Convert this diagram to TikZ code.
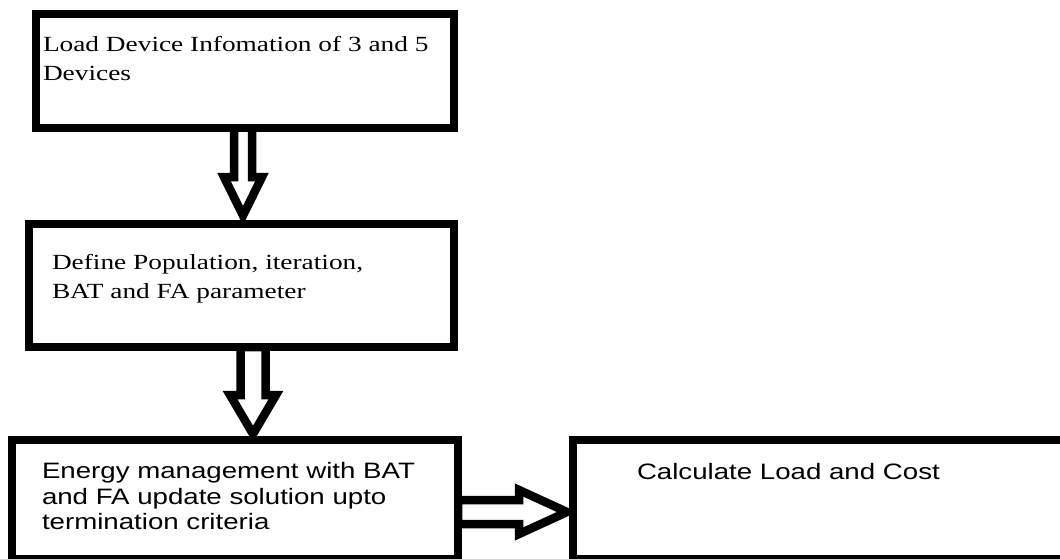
\documentclass[tikz,border=0pt]{standalone}
\usepackage{fontspec}
\usetikzlibrary{calc}
\newfontfamily\serifface{Liberation Serif}
\newfontfamily\sansface{Liberation Sans}
% text blocks: the lettering is set slightly wide
\newcommand\serifblock[1]{\scalebox{1.265}[1]{\serifface\fontsize{21.6}{29}\selectfont\begin{tabular}[t]{@{}l@{}}#1\end{tabular}}}
\newcommand\sansblock[1]{\scalebox{1.24}[1]{\sansface\fontsize{22.3}{25.7}\selectfont\begin{tabular}[t]{@{}l@{}}#1\end{tabular}}}
\tikzset{
  stagebox/.style={draw=black, fill=white, line width=8pt, inner sep=0pt, rectangle},
  label text/.style={anchor=base west, inner sep=0pt, outer sep=0pt},
  hollow arrow/.style={draw=black, fill=white, line width=8.5pt, line join=miter, miter limit=10},
}
\begin{document}
\begin{tikzpicture}[x=1pt, y=-1pt]
  \useasboundingbox (0,0) rectangle (1060,558);
  \fill[white] (0,0) rectangle (1060,558);

  % block centres
  \coordinate (p1) at (245,70.5);
  \coordinate (p2) at (241.5,285.25);
  \coordinate (p3) at (235,499.25);
  \coordinate (p4) at (826.25,499.25);

  % hollow block arrows (drawn first so the boxes cover their roots)
  \path (p1) ++(-2,57) coordinate (a1root);
  \path (p2) ++(11.5,61.75) coordinate (a2root);
  \path (p3) ++(223,12.75) coordinate (a3root);

  \draw[hollow arrow] ($(a1root)+(-9,0)$) -- ++(0,49.5) -- ++(-10,0)
     -- ($(a1root)+(0,88)$) -- ($(a1root)+(19,49.5)$) -- ++(-10,0)
     -- ($(a1root)+(9,0)$) -- cycle;
  \draw[hollow arrow] ($(a2root)+(-12.5,0)$) -- ++(0,48) -- ++(-10.5,0)
     -- ($(a2root)+(0,87)$) -- ($(a2root)+(23,48)$) -- ++(-10.5,0)
     -- ($(a2root)+(12.5,0)$) -- cycle;
  \draw[hollow arrow] ($(a3root)+(0,-12)$) -- ++(61,0) -- ++(0,-10)
     -- ($(a3root)+(109,0)$) -- ($(a3root)+(61,22)$) -- ++(0,-10)
     -- ($(a3root)+(0,12)$) -- cycle;

  % stage boxes
  \node[stagebox, minimum width=418pt, minimum height=114pt] (b1) at (p1) {};
  \node[stagebox, minimum width=425pt, minimum height=123.5pt] (b2) at (p2) {};
  \node[stagebox, minimum width=446pt, minimum height=119.5pt] (b3) at (p3) {};
  \node[stagebox, minimum width=507.5pt, minimum height=119.5pt] (b4) at (p4) {};

  % box texts
  \node[label text] (t1) at (43,51.5) {\serifblock{Load Device Infomation of 3 and 5\\Devices}};
  \node[label text] (t2) at (52,269.5) {\serifblock{Define Population, iteration,\\BAT and FA parameter}};
  \node[label text] (t3) at (42,478.5) {\sansblock{Energy management with BAT\\and FA update solution upto\\termination criteria}};
  \node[label text] (t4) at (637,479) {\sansblock{Calculate Load and Cost}};
\end{tikzpicture}
\end{document}
